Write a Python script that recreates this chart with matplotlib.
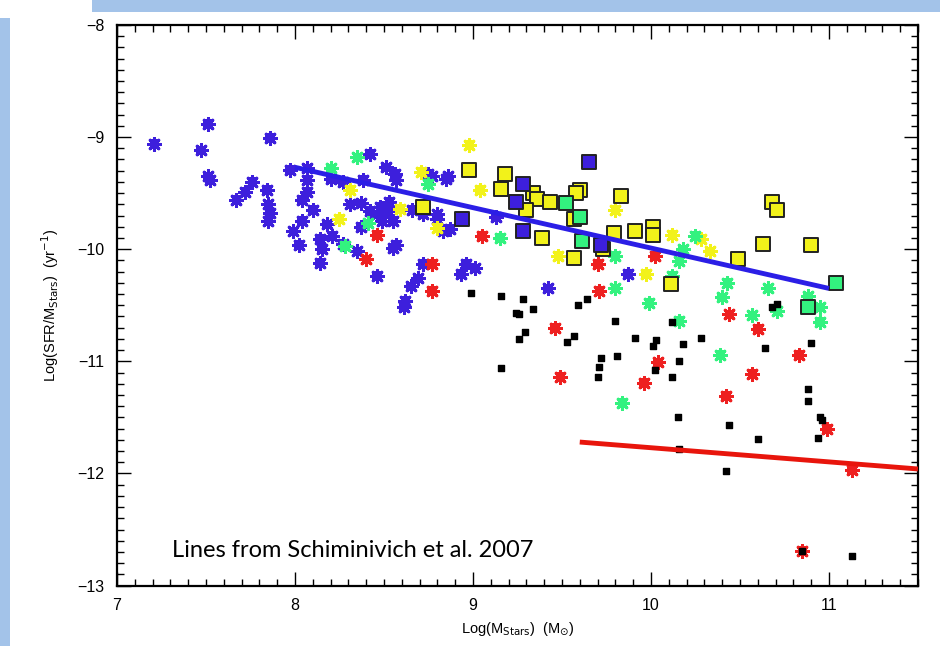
import matplotlib
matplotlib.use("Agg")
import matplotlib.pyplot as plt
from matplotlib.ticker import MultipleLocator
from matplotlib.patches import Rectangle

# --- data ---
blue_star_x = [7.21, 7.51, 7.47, 7.86, 7.51, 7.52, 7.76, 7.72, 7.67, 7.84, 7.85, 7.86, 7.85,
               7.97, 8.07, 8.07, 8.07, 8.04, 8.10, 8.04, 7.99, 8.02, 8.18, 8.14, 8.15, 8.14,
               8.21, 8.27, 8.35, 8.42, 8.20, 8.27, 8.31, 8.37, 8.38, 8.42, 8.46, 8.49, 8.55,
               8.52, 8.48, 8.37, 8.51, 8.56, 8.57, 8.55, 8.57, 8.46, 8.72, 8.69, 8.65, 8.62,
               8.61, 8.66, 8.72, 8.80, 8.83, 8.75, 8.85, 8.53, 8.80, 8.87, 9.13, 8.96, 9.01,
               8.93, 9.42, 9.87, 8.86, 8.77]
blue_star_y = [-9.06, -8.88, -9.12, -9.01, -9.35, -9.38, -9.40, -9.49, -9.56, -9.47, -9.60, -9.68, -9.75,
               -9.29, -9.28, -9.38, -9.49, -9.56, -9.65, -9.75, -9.84, -9.96, -9.78, -9.91, -10.00, -10.12,
               -9.88, -9.95, -10.02, -9.15, -9.37, -9.40, -9.60, -9.59, -9.38, -9.66, -9.69, -9.75, -9.75,
               -9.66, -9.62, -9.80, -9.27, -9.33, -9.38, -9.99, -9.96, -10.24, -10.13, -10.26, -10.33, -10.46,
               -10.52, -9.65, -9.69, -9.73, -9.84, -9.33, -9.37, -9.58, -9.69, -9.82, -9.71, -10.13, -10.17,
               -10.22, -10.35, -10.22, -9.35, -9.35]

yellow_star_x = [8.98, 9.04, 9.80, 9.48, 9.97, 10.12, 8.31, 8.25, 8.59, 8.71, 8.80, 10.28, 10.33]
yellow_star_y = [-9.07, -9.47, -9.65, -10.06, -10.22, -9.87, -9.47, -9.73, -9.64, -9.31, -9.81, -9.91, -10.02]

green_star_x = [8.35, 8.20, 8.75, 8.28, 8.41, 9.15, 9.80, 9.80, 9.99, 10.25, 10.18, 10.16, 10.12,
                10.43, 10.40, 10.66, 10.57, 10.71, 10.88, 10.95, 10.95, 10.16, 10.39, 9.84]
green_star_y = [-9.18, -9.28, -9.42, -9.97, -9.77, -9.90, -10.06, -10.35, -10.48, -9.88, -10.00, -10.11, -10.24,
                -10.30, -10.43, -10.35, -10.59, -10.55, -10.42, -10.52, -10.65, -10.64, -10.94, -11.37]

red_star_x = [8.46, 8.40, 8.77, 8.77, 9.05, 9.70, 9.71, 10.02, 9.46, 9.49, 10.04, 9.96, 10.44,
              10.60, 10.83, 10.57, 10.42, 10.99, 11.13, 10.85]
red_star_y = [-9.87, -10.09, -10.37, -10.13, -9.88, -10.13, -10.37, -10.06, -10.70, -11.14, -11.01, -11.19, -10.58,
              -10.71, -10.94, -11.11, -11.31, -11.60, -11.97, -12.69]

black_x = [8.99, 9.16, 9.28, 9.34, 9.24, 9.26, 9.29, 9.26, 9.16, 9.59, 9.64, 9.57, 9.53, 9.80,
           9.91, 10.03, 10.01, 9.72, 9.81, 9.71, 9.70, 10.12, 10.02, 10.15, 10.12, 10.18, 10.28,
           10.64, 10.90, 10.16, 10.88, 10.88, 10.44, 10.95, 10.96, 10.60, 10.94, 10.16, 10.42,
           10.71, 10.68, 10.85, 11.13]
black_y = [-10.39, -10.42, -10.44, -10.53, -10.57, -10.58, -10.74, -10.80, -11.06, -10.50, -10.44, -10.77, -10.83, -10.64,
           -10.79, -10.81, -10.86, -10.97, -10.95, -11.05, -11.14, -11.14, -11.08, -11.50, -10.65, -10.85, -10.79,
           -10.88, -10.84, -11.00, -11.25, -11.35, -11.57, -11.50, -11.52, -11.69, -11.68, -11.78, -11.98,
           -10.49, -10.52, -12.69, -12.74]

yellow_sq_x = [8.72, 8.98, 9.18, 9.16, 9.34, 9.36, 9.30, 9.43, 9.60, 9.58, 9.57, 9.39, 9.57, 9.73,
               9.83, 9.79, 9.91, 10.01, 10.01, 10.11, 10.68, 10.71, 10.63, 10.49, 10.90]
yellow_sq_y = [-9.62, -9.29, -9.33, -9.46, -9.50, -9.55, -9.65, -9.58, -9.47, -9.50, -9.73, -9.90, -10.08, -10.00,
               -9.53, -9.86, -9.84, -9.80, -9.87, -10.31, -9.58, -9.65, -9.95, -10.09, -9.96]

blue_sq_x = [8.94, 9.28, 9.24, 9.28, 9.65, 9.72]
blue_sq_y = [-9.73, -9.42, -9.58, -9.84, -9.22, -9.96]

green_sq_x = [9.52, 9.60, 9.61, 11.04, 10.88]
green_sq_y = [-9.59, -9.71, -9.93, -10.30, -10.52]

blue_line_x = [8.0, 11.0]
blue_line_y = [-9.27, -10.35]
red_line_x = [9.6, 11.5]
red_line_y = [-11.72, -11.96]

BLUE = "#3d1fdc"
YELLOW = "#f2f21a"
GREEN = "#33f27f"
RED = "#ee2020"

plt.rcParams["font.family"] = ["Liberation Sans", "DejaVu Sans"]

fig = plt.figure(figsize=(9.4, 6.46), dpi=100)
# slide decoration bars
fig.patches.append(Rectangle((0, 0), 0.011, 0.972, transform=fig.transFigure,
                             facecolor="#a3c3e9", edgecolor="none"))
fig.patches.append(Rectangle((0.098, 0.982), 0.902, 0.018, transform=fig.transFigure,
                             facecolor="#a3c3e9", edgecolor="none"))

ax = fig.add_axes([0.1245, 0.0935, 0.852, 0.868])


def stars(x, y, c):
    ax.scatter(x, y, marker="s", s=45, c=c, edgecolors="none", zorder=3)
    ax.scatter(x, y, marker=(8, 2, 0), s=75, c=c, linewidths=2.2, zorder=3)


stars(blue_star_x, blue_star_y, BLUE)
stars(yellow_star_x, yellow_star_y, YELLOW)
stars(green_star_x, green_star_y, GREEN)
stars(red_star_x, red_star_y, RED)
ax.scatter(black_x, black_y, marker="s", s=14, c="black", zorder=4)
ax.scatter(yellow_sq_x, yellow_sq_y, marker="s", s=100, c=YELLOW, edgecolors="#222", linewidths=1.4, zorder=4)
ax.scatter(blue_sq_x, blue_sq_y, marker="s", s=100, c=BLUE, edgecolors="#222", linewidths=1.4, zorder=4)
ax.scatter(green_sq_x, green_sq_y, marker="s", s=100, c=GREEN, edgecolors="#222", linewidths=1.4, zorder=4)

ax.plot(blue_line_x, blue_line_y, color="#2b1ee6", lw=3.5, zorder=5, solid_capstyle="butt")
ax.plot(red_line_x, red_line_y, color="#e8150c", lw=3.5, zorder=5, solid_capstyle="butt")

ax.set_xlim(7, 11.5)
ax.set_ylim(-13, -8)
ax.xaxis.set_major_locator(MultipleLocator(1))
ax.xaxis.set_minor_locator(MultipleLocator(0.1))
ax.yaxis.set_major_locator(MultipleLocator(1))
ax.yaxis.set_minor_locator(MultipleLocator(0.1))
ax.tick_params(which="both", direction="in", top=True, right=True, width=1.0)
ax.tick_params(which="major", length=10, labelsize=11.5, pad=9)
ax.tick_params(which="minor", length=5)
for sp in ax.spines.values():
    sp.set_linewidth(1.6)

ax.set_xlabel(r"Log(M$_{\rm Stars}$)  (M$_{\odot}$)", fontsize=10.5, labelpad=5)
ax.set_ylabel(r"Log(SFR/M$_{\rm Stars}$)  (yr$^{-1}$)", fontsize=10.5, labelpad=12)

ax.text(7.31, -12.69, "Lines from Schiminivich et al. 2007", fontsize=17, family="Lato",
        va="center", ha="left", zorder=6)

fig.savefig("out.png", dpi=100)
